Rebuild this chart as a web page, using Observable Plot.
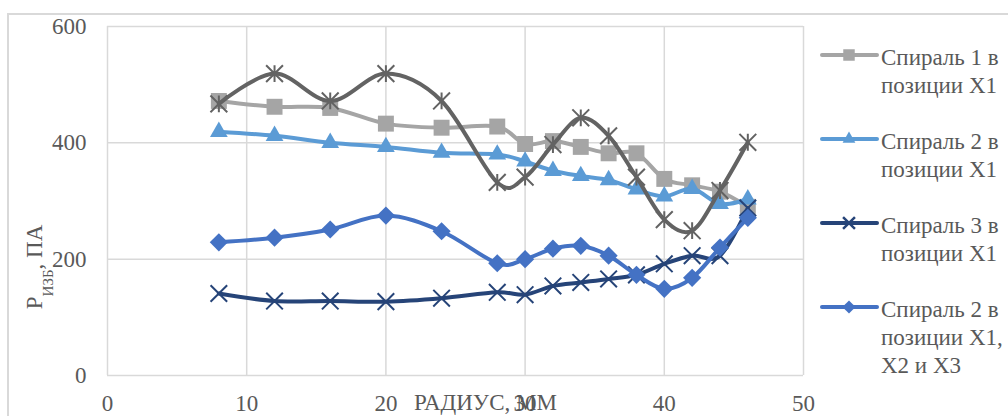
<!DOCTYPE html>
<html>
<head>
<meta charset="utf-8">
<script src="https://cdn.jsdelivr.net/npm/d3@7"></script>
<script src="https://cdn.jsdelivr.net/npm/@observablehq/plot@0.6"></script>
<style>
  html, body { margin: 0; padding: 0; background: #fff; overflow: hidden; }
  #wrap { position: relative; width: 1008px; height: 416px; overflow: hidden; }
  #border { position: absolute; left: 7px; top: 13px; width: 1020px; height: 430px;
            border: 2px solid #d9d9d9; box-sizing: border-box; }
  #chart { position: absolute; left: 0; top: 0; }
  #legend { position: absolute; left: 0; top: 0; }
</style>
</head>
<body>
<div id="wrap">
  <div id="border"></div>
  <div id="chart"></div>
  <svg id="legend" width="1008" height="416"></svg>
</div>
<script>
// Radius positions (mm)
const radius = [8, 12, 16, 20, 24, 28, 30, 32, 34, 36, 38, 40, 42, 44, 46];

// Excess pressure, Pa, for each spiral / position
const spiral1X1 = [472, 462, 460, 433, 426, 428, 398, 403, 393, 382, 382, 338, 327, 316, 290];
const spiral2X1 = [419, 412, 400, 393, 383, 380, 368, 352, 343, 336, 320, 308, 321, 295, 303];
const spiral3X1 = [141, 128, 128, 127, 133, 143, 139, 154, 160, 166, 173, 192, 206, 206, 288];
const spiral2X123 = [229, 237, 251, 275, 248, 193, 200, 218, 223, 206, 173, 149, 168, 220, 271];
const spiralExtra = [467, 519, 472, 519, 472, 332, 341, 397, 443, 412, 341, 268, 249, 318, 401];

const xTicks = [0, 10, 20, 30, 40, 50];
const yTicks = [0, 200, 400, 600];

const seriesNames = [
  ["Спираль 1 в", "позиции Х1"],
  ["Спираль 2 в", "позиции Х1"],
  ["Спираль 3 в", "позиции Х1"],
  ["Спираль 2 в", "позиции Х1,", "Х2 и Х3"]
];

// Excel-style star marker: an X with a vertical bar through it
const starSymbol = {
  draw(context, size) {
    const r = Math.sqrt(size) * 0.5;
    context.moveTo(-r, -r); context.lineTo(r, r);
    context.moveTo(-r, r); context.lineTo(r, -r);
    context.moveTo(0, -r); context.lineTo(0, r);
  }
};

const series = [
  {values: spiral1X1, color: "#a5a5a5", symbol: "square", r: 9, filled: true},
  {values: spiral2X1, color: "#5b9bd5", symbol: "triangle", r: 6.6, filled: true},
  {values: spiral3X1, color: "#264478", symbol: "times", r: 7.6, filled: false},
  {values: spiral2X123, color: "#4472c4", symbol: "diamond2", r: 8.2, filled: true},
  {values: spiralExtra, color: "#636363", symbol: starSymbol, r: 9.5, filled: false}
];

const marks = [
  Plot.gridX(xTicks, {stroke: "#d9d9d9", strokeOpacity: 1, strokeWidth: 1.5}),
  Plot.gridY(yTicks, {stroke: "#d9d9d9", strokeOpacity: 1, strokeWidth: 1.5}),
  Plot.axisX(xTicks, {tickSize: 0, tickPadding: 19, label: null}),
  Plot.axisY(yTicks, {tickSize: 0, tickPadding: 21, label: null}),
  Plot.text(["РАДИУС, ММ"], {frameAnchor: "bottom", dx: 30, dy: 27, lineAnchor: "middle", fill: "#595959"})
];

for (const s of series) {
  const data = radius.map((x, i) => ({x, y: s.values[i]}));
  marks.push(Plot.line(data, {x: "x", y: "y", stroke: s.color, strokeWidth: 4,
    curve: "cardinal", tension: 0}));
  marks.push(Plot.dot(data, {x: "x", y: "y", symbol: s.symbol, r: s.r,
    fill: s.filled ? s.color : "none",
    stroke: s.filled ? "none" : s.color,
    strokeWidth: s.filled ? 0 : 2}));
}

const chart = Plot.plot({
  width: 1008,
  height: 416,
  marginLeft: 107,
  marginRight: 205,
  marginTop: 26,
  marginBottom: 41,
  style: {fontFamily: "'Liberation Serif', 'Times New Roman', serif", fontSize: "23px", color: "#595959", background: "transparent"},
  x: {domain: [0, 50]},
  y: {domain: [0, 600]},
  marks
});
document.getElementById("chart").appendChild(chart);

// Y-axis title with subscript
const svg = d3.select(chart);
const yTitle = svg.append("text")
  .attr("transform", "translate(42,267) rotate(-90)")
  .attr("fill", "#595959")
  .style("font-family", "'Liberation Serif', 'Times New Roman', serif")
  .style("font-size", "23px");
yTitle.append("tspan").text("Р");
yTitle.append("tspan").attr("dy", 11).style("font-size", "15px").text("ИЗБ");
yTitle.append("tspan").attr("dy", -11).text(", ПА");

// Legend
const legend = d3.select("#legend");
const legendTop = [55, 139, 223, 307];
const symbolType = {square: d3.symbolSquare, triangle: d3.symbolTriangle, times: d3.symbolTimes, diamond2: d3.symbolDiamond2};
seriesNames.forEach((lines, i) => {
  const s = series[i];
  const y0 = legendTop[i];
  const g = legend.append("g");
  g.append("line").attr("x1", 822).attr("x2", 877).attr("y1", y0).attr("y2", y0)
    .attr("stroke", s.color).attr("stroke-width", 4).attr("stroke-linecap", "round");
  const size = Math.PI * (s.r * 0.72) ** 2;
  g.append("path")
    .attr("transform", `translate(849,${y0})`)
    .attr("d", d3.symbol(symbolType[s.symbol], size)())
    .attr("fill", s.filled ? s.color : "none")
    .attr("stroke", s.filled ? "none" : s.color)
    .attr("stroke-width", s.filled ? 0 : 2.5);
  const t = g.append("text")
    .attr("fill", "#595959")
    .style("font-family", "'Liberation Serif', 'Times New Roman', serif")
    .style("font-size", "23px");
  lines.forEach((line, j) => {
    t.append("tspan").attr("x", 881).attr("y", y0 + 9.5 + j * 28.4).text(line);
  });
});
</script>
</body>
</html>
